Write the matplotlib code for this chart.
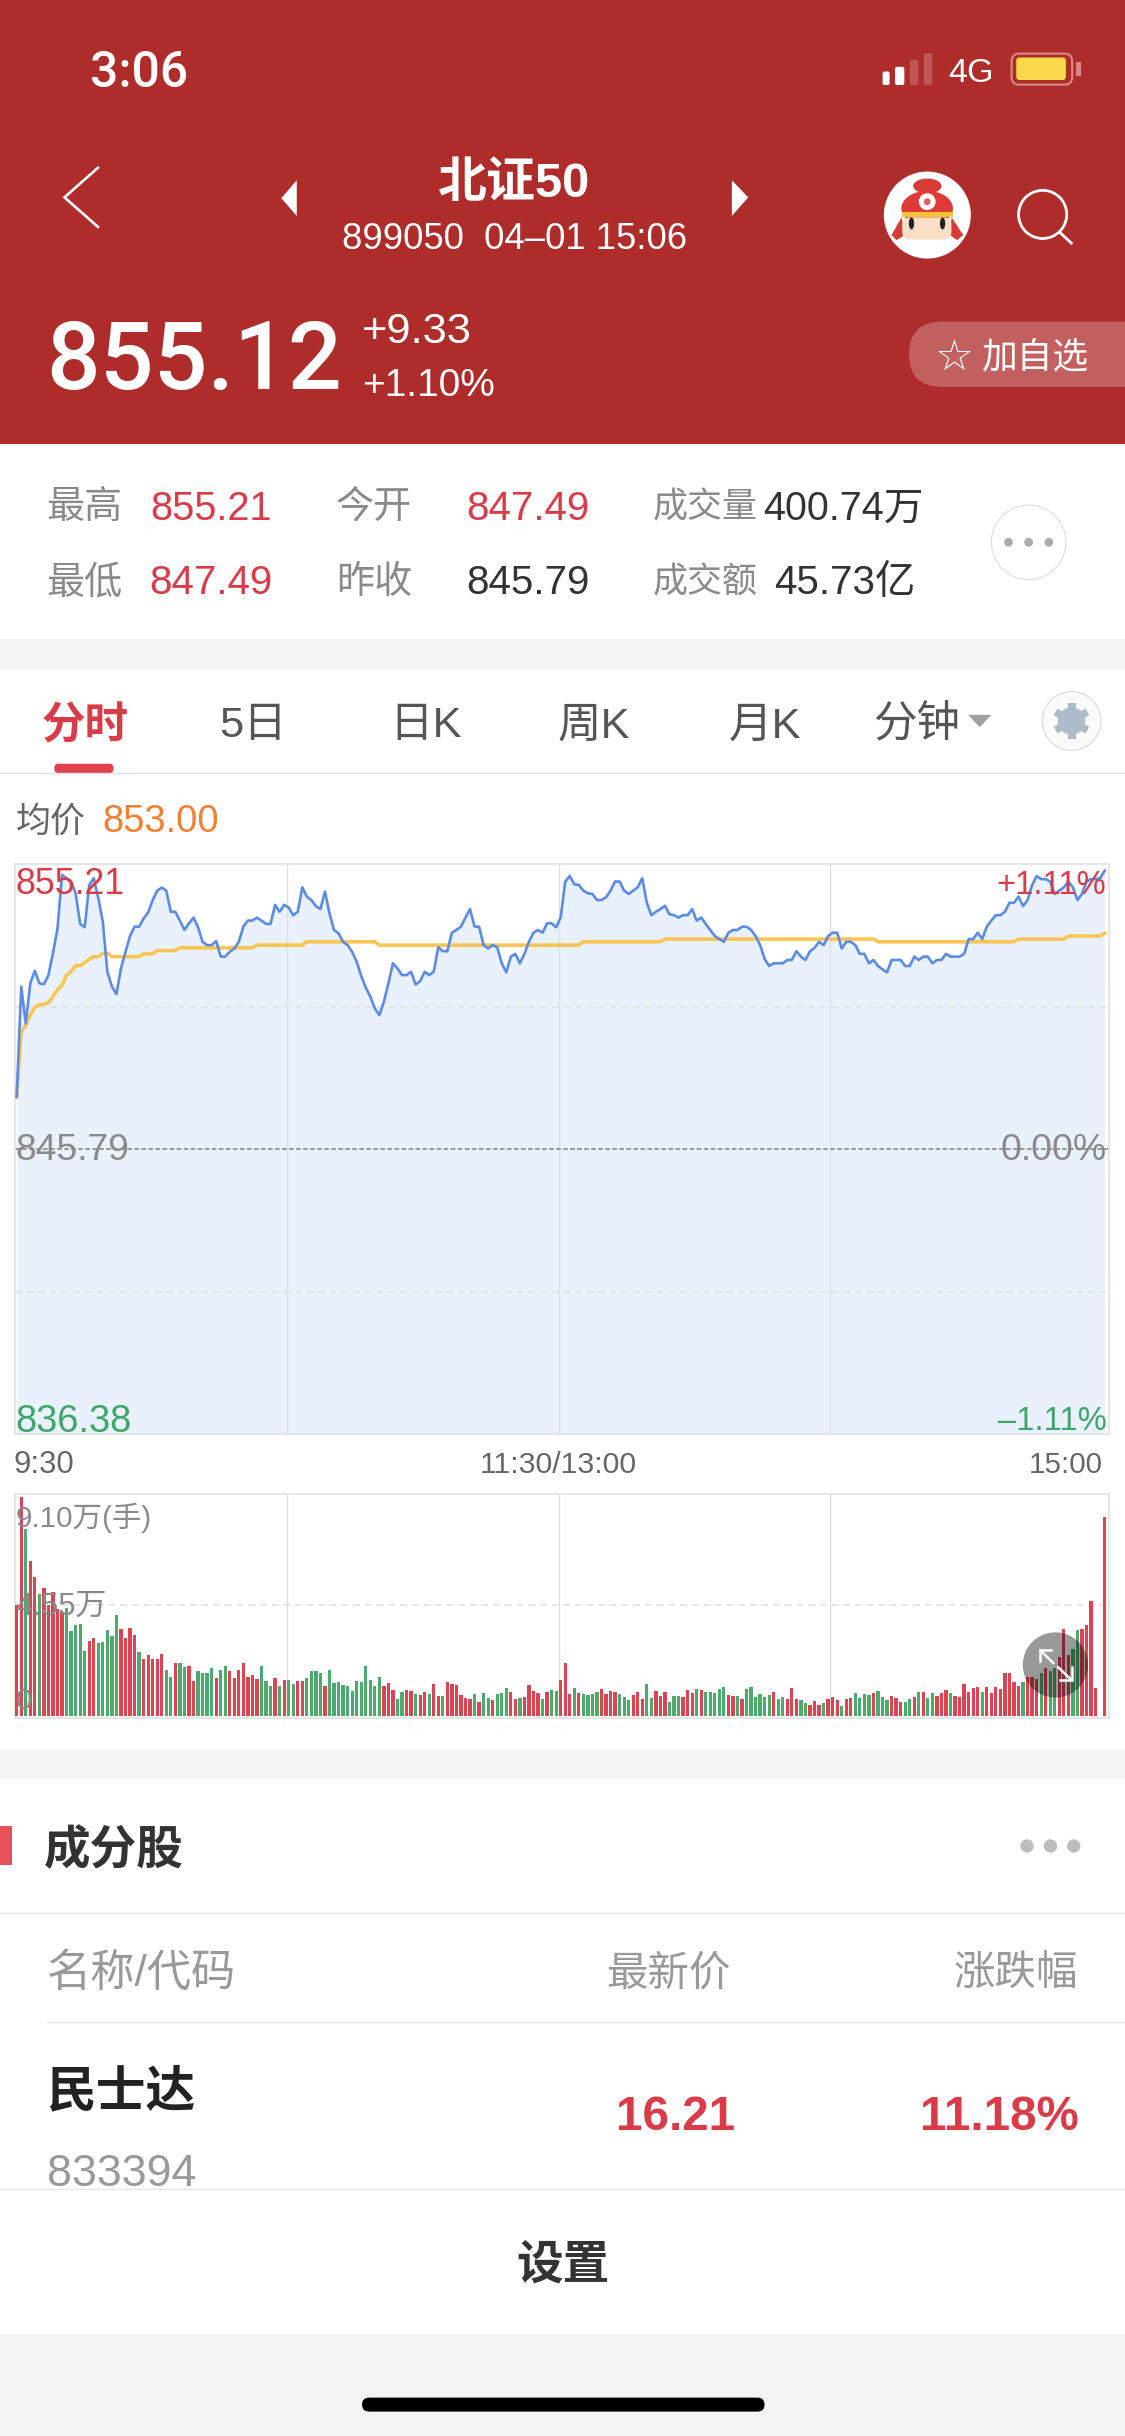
import math
import matplotlib
matplotlib.use("Agg")
import matplotlib.pyplot as plt
from matplotlib.patches import Rectangle, Circle, Ellipse, Polygon, FancyBboxPatch

plt.rcParams['font.family'] = ['Liberation Sans', 'Noto Sans CJK SC', 'DejaVu Sans']

# price line, one value per minute
price = [
    847.52, 851.16, 849.94, 851.27, 851.68, 851.27, 851.24, 851.54, 852.26, 853.08,
    854.85, 854.74, 854.63, 854.24, 853.23, 853.12, 854.52, 854.74, 854.08, 853.30,
    851.65, 851.16, 850.91, 851.76, 852.31, 852.83, 853.14, 853.14, 853.41, 853.61,
    854.02, 854.33, 854.43, 854.33, 853.63, 853.63, 853.34, 853.03, 853.25, 853.44,
    853.12, 852.64, 852.53, 852.53, 852.66, 852.15, 852.15, 852.31, 852.42, 852.64,
    853.14, 853.34, 853.34, 853.44, 853.34, 853.23, 853.23, 853.86, 853.63, 853.86,
    853.77, 853.52, 853.63, 854.44, 854.13, 854.02, 853.82, 853.72, 854.30, 853.58,
    853.03, 852.92, 852.64, 852.53, 852.31, 851.98, 851.51, 851.13, 850.83, 850.44,
    850.22, 850.66, 851.27, 851.93, 851.76, 851.54, 851.54, 851.65, 851.23, 851.34,
    851.65, 851.54, 851.65, 852.46, 852.33, 852.33, 852.94, 853.03, 853.14, 853.44,
    853.72, 853.14, 853.14, 852.53, 852.42, 852.53, 852.46, 851.93, 851.63, 852.15,
    852.24, 851.93, 852.24, 852.64, 852.94, 853.03, 852.94, 853.25, 853.25, 853.12,
    853.44, 854.63, 854.81, 854.54, 854.52, 854.33, 854.24, 854.22, 854.02, 854.02,
    854.11, 854.33, 854.63, 854.63, 854.33, 854.22, 854.33, 854.44, 854.74, 853.93,
    853.52, 853.63, 853.72, 853.83, 853.55, 853.52, 853.44, 853.52, 853.52, 853.72,
    853.34, 853.44, 853.23, 853.03, 852.83, 852.73, 852.64, 852.94, 853.03, 853.03,
    853.14, 853.14, 853.03, 852.83, 852.53, 852.07, 851.84, 851.93, 851.93, 851.93,
    852.04, 852.04, 852.33, 852.15, 852.04, 852.33, 852.44, 852.64, 852.53, 852.83,
    852.94, 852.94, 852.42, 852.64, 852.64, 852.53, 852.24, 852.24, 851.93, 852.04,
    851.84, 851.73, 851.63, 852.04, 852.04, 852.04, 851.84, 851.84, 852.15, 852.04,
    852.15, 852.15, 851.93, 852.04, 852.04, 852.24, 852.15, 852.15, 852.15, 852.24,
    852.73, 852.73, 852.94, 852.73, 853.14, 853.34, 853.52, 853.52, 853.63, 853.93,
    853.93, 854.13, 853.82, 854.02, 854.52, 854.81, 854.71, 854.71, 854.63, 854.22,
    854.33, 854.44, 854.63, 854.44, 854.02, 854.22, 854.63, 854.71, 854.71, 854.74,
    854.99,
]

# average price line
avg_price = [
    847.52, 849.67, 849.89, 850.22, 850.47, 850.57, 850.57, 850.63, 850.83, 851.05,
    851.21, 851.54, 851.65, 851.85, 851.85, 851.95, 852.06, 852.15, 852.15, 852.26,
    852.26, 852.15, 852.15, 852.15, 852.15, 852.15, 852.15, 852.15, 852.24, 852.24,
    852.24, 852.35, 852.35, 852.35, 852.35, 852.35, 852.44, 852.44, 852.44, 852.44,
    852.44, 852.44, 852.44, 852.44, 852.44, 852.44, 852.44, 852.44, 852.44, 852.44,
    852.44, 852.44, 852.44, 852.53, 852.53, 852.53, 852.53, 852.53, 852.53, 852.53,
    852.53, 852.53, 852.53, 852.53, 852.64, 852.64, 852.64, 852.64, 852.64, 852.64,
    852.64, 852.64, 852.64, 852.64, 852.64, 852.64, 852.64, 852.64, 852.64, 852.64,
    852.53, 852.53, 852.53, 852.53, 852.53, 852.53, 852.53, 852.53, 852.53, 852.53,
    852.53, 852.53, 852.53, 852.53, 852.53, 852.53, 852.53, 852.53, 852.53, 852.53,
    852.53, 852.53, 852.53, 852.53, 852.53, 852.53, 852.53, 852.53, 852.53, 852.53,
    852.53, 852.53, 852.53, 852.53, 852.53, 852.53, 852.53, 852.53, 852.53, 852.53,
    852.53, 852.53, 852.53, 852.53, 852.53, 852.64, 852.64, 852.64, 852.64, 852.64,
    852.64, 852.64, 852.64, 852.64, 852.64, 852.64, 852.64, 852.64, 852.64, 852.64,
    852.64, 852.64, 852.64, 852.73, 852.73, 852.73, 852.73, 852.73, 852.73, 852.73,
    852.73, 852.73, 852.73, 852.73, 852.73, 852.73, 852.73, 852.73, 852.73, 852.73,
    852.73, 852.73, 852.73, 852.73, 852.73, 852.73, 852.73, 852.73, 852.73, 852.73,
    852.73, 852.73, 852.73, 852.73, 852.73, 852.73, 852.73, 852.73, 852.73, 852.73,
    852.73, 852.73, 852.73, 852.73, 852.73, 852.73, 852.73, 852.73, 852.73, 852.73,
    852.64, 852.64, 852.64, 852.64, 852.64, 852.64, 852.64, 852.64, 852.64, 852.64,
    852.64, 852.64, 852.64, 852.64, 852.64, 852.64, 852.64, 852.64, 852.64, 852.64,
    852.64, 852.64, 852.64, 852.64, 852.64, 852.64, 852.64, 852.64, 852.64, 852.64,
    852.64, 852.73, 852.73, 852.73, 852.73, 852.73, 852.73, 852.73, 852.73, 852.73,
    852.73, 852.73, 852.83, 852.83, 852.83, 852.83, 852.83, 852.83, 852.83, 852.83,
    852.92,
]

# volume in 万手
volume = [
    4.55, 8.96, 7.65, 6.37, 5.71, 5.00, 5.23, 4.55, 5.10, 4.37,
    4.28, 4.41, 3.48, 3.73, 3.78, 2.68, 3.07, 3.21, 2.99, 3.02,
    3.54, 3.29, 4.13, 3.58, 3.18, 3.59, 3.31, 2.64, 2.34, 2.49,
    2.32, 2.34, 2.53, 1.87, 1.60, 2.17, 2.17, 1.99, 2.05, 1.45,
    1.83, 1.76, 1.76, 1.98, 1.56, 1.89, 2.05, 1.84, 1.54, 1.89,
    2.17, 1.59, 1.67, 1.52, 2.04, 1.43, 1.22, 1.54, 1.23, 1.48,
    1.48, 1.31, 1.42, 1.43, 1.56, 1.83, 1.83, 1.76, 1.23, 1.89,
    1.37, 1.39, 1.28, 1.22, 1.02, 1.42, 1.39, 2.06, 1.48, 1.22,
    1.59, 1.23, 1.35, 1.08, 0.70, 0.98, 1.05, 1.04, 0.90, 0.86,
    0.98, 0.89, 1.31, 0.82, 0.81, 1.39, 1.31, 1.28, 0.86, 0.72,
    0.70, 0.89, 0.57, 0.93, 0.74, 0.66, 0.89, 0.93, 1.15, 0.98,
    0.68, 0.74, 0.78, 1.27, 1.04, 0.94, 0.70, 0.98, 1.05, 1.01,
    1.48, 2.19, 0.89, 1.13, 0.94, 0.90, 0.85, 0.90, 0.98, 1.09,
    0.92, 1.02, 0.98, 0.89, 0.78, 0.67, 0.85, 0.97, 0.71, 1.30,
    0.72, 1.01, 0.82, 0.98, 0.56, 0.81, 0.81, 0.78, 1.05, 0.96,
    1.12, 1.05, 0.98, 0.98, 0.94, 1.11, 1.18, 0.85, 0.82, 0.81,
    0.68, 1.11, 1.20, 0.78, 0.89, 0.78, 0.87, 0.97, 0.68, 0.77,
    0.70, 1.13, 0.68, 0.64, 0.53, 0.45, 0.60, 0.44, 0.53, 0.68,
    0.77, 0.66, 0.42, 0.71, 0.74, 0.93, 0.72, 0.89, 0.86, 0.94,
    1.02, 0.77, 0.66, 0.82, 0.72, 0.59, 0.57, 0.70, 0.78, 1.00,
    1.00, 0.74, 0.96, 0.82, 0.96, 1.07, 0.93, 0.82, 0.77, 1.31,
    1.00, 1.16, 1.18, 0.97, 1.18, 0.93, 1.18, 1.09, 1.76, 1.76,
    1.39, 1.23, 1.38, 1.59, 1.61, 1.52, 1.78, 1.98, 1.86, 1.97,
    2.40, 3.57, 2.50, 2.73, 3.51, 3.57, 3.72, 4.73, 1.15, 0.00,
    8.14,
]

# R = up minute, G = down minute
bar_dirs = (
    "RRGRRGRRRR" "RGGGGGRRGG" "GGGRRRRGRR" "RRRGGRGGRR" "GGGGRGGRRR"
    "RRRRGGGRGR" "GGRRGGGGRG" "GGGGGGGGGG" "GRRRGGRRGR" "RGRRGRRRRR"
    "RGRGGRGGGR" "RGRRRRGRGG" "RRRGRGGGGR" "RRRGGGRRRG" "GRRRGGGRRR"
    "GRGGGGGRRG" "RGGGGGGRGG" "RRRGGRRRGR" "RRGRRGGGGR" "GGGRRRGGRG"
    "RGGRRRGRRR" "RRRGRRRRRR" "RRGRRRGRGG" "RRRGGRRRRRR"
)

price_high = 855.21
price_low = 836.38
prev_close = 845.79
vol_max = 9.10
vol_mid = 4.55
grid_minutes = [59.6, 119.6, 179.5]

RED = "#D93B48"
GREEN = "#3FA66A"
GREY = "#8A8A8A"
DARK = "#333333"
HEADER = "#AE2C29"
W, H = 1125, 2436
SCALE = W / 724.0


def px_axes(fig, x0, y0, x1, y1):
    return fig.add_axes([x0 / W, 1 - y1 / H, (x1 - x0) / W, (y1 - y0) / H])


def style_frame(ax):
    ax.set_xlim(-0.375, 240.96)
    ax.set_xticks([])
    ax.set_yticks([])
    for s in ax.spines.values():
        s.set_color("#E2E2E2")
        s.set_linewidth(1.2)
    for m in grid_minutes:
        ax.axvline(m, color="#DEDEDE", lw=0.9, zorder=2)


fig = plt.figure(figsize=(W / 100, H / 100), dpi=100, facecolor="white")

# minute chart
ax = px_axes(fig, 15, 864, 1109, 1434)
style_frame(ax)
ax.set_ylim(price_low, price_high)
minutes = list(range(len(price)))
ax.fill_between(minutes, price, price_low, color="#E9F2FC", lw=0, zorder=1)
ax.axhline((price_high + prev_close) / 2, color="#E2E2E2", lw=1.2, ls=(0, (4, 3)), zorder=2)
ax.axhline((price_low + prev_close) / 2, color="#E2E2E2", lw=1.2, ls=(0, (4, 3)), zorder=2)
ax.axhline(prev_close, color="#808080", lw=1.1, ls=(0, (3, 1.6)), zorder=2)
ax.plot(minutes, avg_price, color="#F8C655", lw=2.6, zorder=3, solid_joinstyle="round")
ax.plot(minutes, price, color="#5B8BE5", lw=1.9, zorder=4, solid_joinstyle="round")

# volume chart
vax = px_axes(fig, 15, 1494, 1109, 1718)
style_frame(vax)
vax.set_ylim(-0.08, vol_max)
vax.axhline(vol_mid, color="#E2E2E2", lw=1.2, ls=(0, (4, 3)), zorder=1)
colors = ["#DC4453" if d == "R" else "#4CAB6C" for d in bar_dirs]
vax.bar(minutes, volume, width=0.72, color=colors, lw=0, zorder=3)

# everything around the charts, in the coordinates of a 724 wide screen
ui = fig.add_axes([0, 0, 1, 1], zorder=5)
ui.set_xlim(0, 724)
ui.set_ylim(H / SCALE, 0)
ui.axis("off")
ui.patch.set_alpha(0)


def txt(x, y, s, em, color=DARK, ha="left", weight="normal", **kw):
    # va=center sits a little high for these fonts
    ui.text(x, y + em * 0.09, s, fontsize=em * SCALE * 0.72, color=color, ha=ha, va="center",
            fontweight=weight, **kw)


def rect(x0, y0, x1, y1, color, **kw):
    ui.add_patch(Rectangle((x0, y0), x1 - x0, y1 - y0, fc=color, lw=0, **kw))


# page blocks
rect(0, 0, 724, 286, HEADER)
rect(0, 411, 724, 431, "#F5F5F5")
rect(0, 1126, 724, 1145, "#F5F5F5")
rect(0, 1502, 724, H / SCALE, "#F4F4F4")
ui.plot([0, 724], [497.5, 497.5], color="#E0E0E0", lw=1)

# status bar
txt(58, 44, "3:06", 32, "white", weight=500, family="Roboto")
txt(610, 45, "4G", 22, "white")
for (x0, x1, top, col, a) in [(568, 572.5, 46, "white", 1), (576, 582, 43, "white", 1),
                              (585.5, 591, 38.6, "white", 0.2), (594.6, 600, 34.3, "white", 0.2)]:
    ui.add_patch(FancyBboxPatch((x0, top), x1 - x0, 54.7 - top, boxstyle="round,pad=0,rounding_size=1.2",
                                fc=col, alpha=a, lw=0))
ui.add_patch(FancyBboxPatch((651, 34.5), 39, 20, boxstyle="round,pad=0,rounding_size=5",
                            fc="none", ec="#D88A88", lw=1.5))
ui.add_patch(FancyBboxPatch((654, 37), 32, 14.5, boxstyle="round,pad=0,rounding_size=2",
                            fc="#F9D84A", lw=0))
rect(692.5, 40, 695.5, 49, "#D88A88")

# title row
ui.plot([63, 41.5, 63], [108, 127, 146], color="white", lw=1.9, solid_joinstyle="miter")
ui.add_patch(Polygon([(181, 127.5), (191, 116), (191, 139)], fc="white", lw=0))
ui.add_patch(Polygon([(481.5, 127), (471, 116), (471, 139)], fc="white", lw=0))
txt(331, 116, "北证50", 31.5, "white", ha="center", weight="bold")
txt(331, 152, "899050  04–01 15:06", 23.5, "white", ha="center")

# avatar
ui.add_patch(Circle((596.8, 138.4), 28, fc="white", lw=0))
ui.add_patch(Ellipse((596.8, 119.7), 18.2, 9.6, fc="#D83A36", lw=0))
ui.add_patch(Polygon([(580.2, 139.9), (573.7, 151.3), (577, 154.5), (582.3, 151.3)], fc="#D83A36", lw=0))
ui.add_patch(Polygon([(612.4, 139.9), (619.9, 151.3), (616, 154.5), (611.3, 151.3)], fc="#D83A36", lw=0))
ui.add_patch(Ellipse((596.7, 134.1), 33.2, 22.5, fc="#DE3A38", lw=0))
ui.add_patch(FancyBboxPatch((580.6, 139.9), 31.7, 14.2, boxstyle="round,pad=0,rounding_size=5",
                            fc="#F8DFC6", lw=0))
rect(580.2, 136.2, 613.4, 139.9, "#F8C23C")
ui.add_patch(Circle((596.7, 129.8), 5.4, fc="white", lw=0))
ui.add_patch(Circle((596.7, 129.8), 2.2, fc="#E06060", lw=0))
ui.add_patch(Ellipse((586.6, 143.8), 3.4, 7.7, fc="#222222", lw=0))
ui.add_patch(Ellipse((606.6, 143.8), 3.4, 7.7, fc="#222222", lw=0))

# search icon
ui.add_patch(Circle((671, 138), 15.5, fc="none", ec="white", lw=2))
ui.plot([682, 689.5], [149.5, 156.5], color="white", lw=2)

# quote
txt(30, 228, "855.12", 61, "white", weight=500, family="Roboto")
txt(233, 211, "+9.33", 28, "white")
txt(233, 246, "+1.10%", 25, "white")
ui.add_patch(FancyBboxPatch((585, 207), 200, 42, boxstyle="round,pad=0,rounding_size=21",
                            fc="#C26060", lw=0, clip_on=True))
txt(614, 228, "☆", 28, "white", ha="center", family="DejaVu Sans")
txt(632, 229, "加自选", 23, "white")

# stat rows
for (x, y, s) in [(30, 325, "最高"), (216, 325, "今开"), (30, 373, "最低"), (216, 373, "昨收")]:
    txt(x, y, s, 24.5, GREY)
txt(420, 325, "成交量", 22.5, GREY)
txt(420, 373, "成交额", 22.5, GREY)
txt(97, 325, "855.21", 25.6, RED)
txt(300, 325, "847.49", 26, RED)
txt(96, 373, "847.49", 26, RED)
txt(300, 373, "845.79", 26, DARK)
txt(491, 325, "400.74万", 25.5, DARK)
txt(498, 373, "45.73亿", 26, DARK)
ui.add_patch(Circle((662, 349), 24, fc="white", ec="#E0E0E0", lw=0.9))
for x in [649, 662, 675]:
    ui.add_patch(Circle((x, 349), 2.8, fc="#ABABAB", lw=0))

# tabs
txt(55, 465, "分时", 28, "#D93B48", ha="center", weight="bold")
for (x, s) in [(163, "5日"), (274, "日K"), (382, "周K"), (492, "月K"), (590, "分钟")]:
    txt(x, 465, s, 28, "#555555", ha="center")
ui.add_patch(Polygon([(623, 460), (638, 460), (630.5, 468)], fc="#A0A0A0", lw=0))
ui.add_patch(Circle((689.6, 464), 18.9, fc="#FBFBFB", ec="#DDDDDD", lw=0.9))
ui.add_patch(Circle((689.6, 464), 8.8, fc="#AEBBC9", lw=0))
for k in range(6):
    ang = math.radians(90 + 60 * k)
    ui.plot([689.6, 689.6 + 11.8 * math.cos(ang)], [464, 464 + 11.8 * math.sin(ang)],
            color="#AEBBC9", lw=5.6, solid_capstyle="butt")
ui.add_patch(Circle((689.6, 464), 3.9, fc="#FBFBFB", lw=0))
ui.add_patch(FancyBboxPatch((35, 491.5), 38, 6, boxstyle="round,pad=0,rounding_size=2.5",
                            fc="#E0434F", lw=0))
txt(10, 527, "均价", 22.5, "#666666")
txt(66, 527, "853.00", 24.5, "#F08030")

# chart labels
txt(10, 567, "855.21", 23, RED)
txt(712, 568, "+1.11%", 21, RED, ha="right")
txt(10, 738, "845.79", 24, GREY)
txt(712, 738, "0.00%", 24, GREY, ha="right")
txt(10, 913, "836.38", 24.5, GREEN)
txt(712, 913, "–1.11%", 21, GREEN, ha="right")
txt(9, 941, "9:30", 20, "#666666")
txt(359, 941, "11:30/13:00", 19.5, "#666666", ha="center")
txt(710, 941, "15:00", 19, "#666666", ha="right")
txt(10, 975, "9.10万(手)", 19, GREY)
txt(10, 1032, "4.55万", 20, GREY)
txt(10, 1093, "0", 19, GREY)

# expand button over the volume bars
ui.add_patch(Circle((679.2, 1071.5), 21, fc="black", alpha=0.4, lw=0))
ui.plot([669.6, 677.8], [1062.2, 1070.2], color="white", lw=1.8)
ui.plot([669.3, 669.3, 676.5], [1069, 1062, 1062], color="white", lw=1.8, solid_joinstyle="miter")
ui.plot([681, 689.2], [1073, 1080.8], color="white", lw=1.8)
ui.plot([682, 689.6, 689.6], [1081, 1081, 1073], color="white", lw=1.8, solid_joinstyle="miter")

# constituents
rect(0, 1175, 8, 1200, "#E8505B")
txt(28, 1189, "成分股", 30, DARK, weight="bold")
for x in [661, 676, 691]:
    ui.add_patch(Circle((x, 1188), 4.3, fc="#BDBDBD", lw=0))
ui.plot([0, 724], [1231, 1231], color="#E6E6E6", lw=1)
txt(30, 1268, "名称/代码", 28.5, "#999999")
txt(470, 1268, "最新价", 26.7, "#999999", ha="right")
txt(694, 1268, "涨跌幅", 26.7, "#999999", ha="right")
ui.plot([30, 724], [1301, 1301], color="#E6E6E6", lw=1)
txt(30, 1344, "民士达", 32, "#222222", weight="bold")
txt(30, 1397, "833394", 28.8, "#999999")
txt(473, 1360, "16.21", 30.6, RED, ha="right", weight="bold")
txt(694, 1360, "11.18%", 30.6, RED, ha="right", weight="bold")
ui.plot([0, 724], [1409, 1409], color="#E6E6E6", lw=1)
txt(362, 1456, "设置", 30, DARK, ha="center", weight="bold")
ui.add_patch(FancyBboxPatch((233, 1543), 259, 9, boxstyle="round,pad=0,rounding_size=4.5",
                            fc="black", lw=0))

fig.savefig("out.png", dpi=100, facecolor="white")
